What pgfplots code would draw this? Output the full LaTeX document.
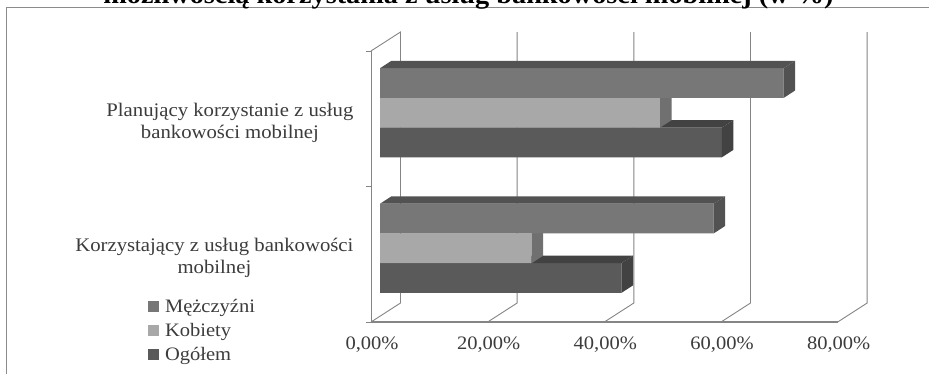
\documentclass[border=0pt]{standalone}
\usepackage{pgfplots}
\pgfplotsset{compat=1.18}
\usepackage{fontspec}
\setmainfont[FakeStretch=1.08]{Liberation Serif}
\definecolor{frameline}{HTML}{8C8C8C}
\definecolor{wall}{HTML}{858585}
\definecolor{labelcol}{HTML}{3C3C3C}
\definecolor{menfront}{HTML}{777777}
\definecolor{menside}{HTML}{525252}
\definecolor{womenfront}{HTML}{A8A8A8}
\definecolor{womenside}{HTML}{707070}
\definecolor{allfront}{HTML}{5A5A5A}
\definecolor{allside}{HTML}{424242}
\begin{document}
\begin{tikzpicture}[x=1pt,y=1pt]
\useasboundingbox (0,0) rectangle (929,374);
\clip (0,0) rectangle (929,374);
\fill[white] (0,0) rectangle (929,374);
% outer chart frame
\draw[frameline,line width=1pt] (6,-5) -- (6,366) -- (940,366);
% heading above the frame
\node[font=\bfseries\fontsize{26.2}{30}\selectfont,anchor=base,inner sep=0pt] at (468.5,370)
  {możliwością korzystania z usług bankowości mobilnej (w \%)};

% floor and walls of the three-dimensional plot area
\begin{axis}[
  at={(371pt,52pt)},anchor=south west,
  scale only axis,width=466.7pt,height=271pt,
  xmin=0,xmax=80,ymin=0,ymax=2,clip=false,
  axis x line*=bottom,axis y line*=left,
  axis line style={wall,line width=0.9pt,-},
  tick style={wall,line width=0.8pt},
  xtick={0,20,40,60,80},
  xticklabels={{0,00\%},{20,00\%},{40,00\%},{60,00\%},{80,00\%}},
  ytick={0,1,2},yticklabels={},
  tick align=outside,
  x tick style={draw=none},
  major tick length=5pt,
  xticklabel style={font=\fontsize{19}{22}\selectfont,text=labelcol,yshift=-6pt,xshift=1pt},
]
\addplot[wall,line width=1pt] coordinates {(0,0.003)(20,0.003)(40,0.003)(60,0.003)(80,0.003)};
\addplot[wall,line width=0.9pt] coordinates {(0,2)(5.05,2.14)(5.05,0.14)(0,0)};
\addplot[wall,line width=0.9pt] coordinates {(20,0)(25.05,0.14)(25.05,2.14)};
\addplot[wall,line width=0.9pt] coordinates {(40,0)(45.05,0.14)(45.05,2.14)};
\addplot[wall,line width=0.9pt] coordinates {(60,0)(65.05,0.14)(65.05,2.14)};
\addplot[wall,line width=0.9pt] coordinates {(80,0)(85.05,0.14)(85.05,2.14)};
\end{axis}

% bars: each series is a front face with a top and an end face for depth
\begin{axis}[
  at={(380pt,58pt)},anchor=south west,
  scale only axis,width=466.7pt,height=271pt,
  xmin=0,xmax=80,ymin=0,ymax=2,clip=false,
  hide x axis,
  axis y line*=left,
  y axis line style={draw=none},
  ytick={0.5,1.5},
  yticklabels={{Korzystający z usług bankowości\\mobilnej},{Planujący korzystanie z usług\\bankowości mobilnej}},
  y tick style={draw=none},
  yticklabel style={font=\fontsize{19.2}{22}\selectfont,text=labelcol,align=center,xshift=-23pt,yshift=-10pt},
  reverse legend=true,
  legend style={at={(-0.4975,0.069)},anchor=north west,draw=none,fill=none,
    font=\fontsize{19}{20}\selectfont,text=labelcol,
    row sep=5pt,inner sep=0pt,
    /tikz/every odd column/.append style={column sep=4pt}},
  legend image code/.code={\fill[#1,draw=none] (0pt,-5.5pt) rectangle (11pt,5.5pt);},
  legend cell align=left,
]
% Ogółem
\addplot[xbar,bar width=29.7pt,bar shift=-29.7pt,fill=allfront,draw=none] coordinates {(41.4,0.5)(58.6,1.5)};
\addlegendentry{Ogółem}
\addplot[fill=allside,draw=none,forget plot] coordinates {(0,0.390)(1.97,0.445)(43.37,0.445)(41.4,0.390)};
\addplot[fill=allside,draw=none,forget plot] coordinates {(41.4,0.390)(43.37,0.445)(43.37,0.226)(41.4,0.171)};
\addplot[fill=allside,draw=none,forget plot] coordinates {(0,1.390)(1.97,1.445)(60.57,1.445)(58.6,1.390)};
\addplot[fill=allside,draw=none,forget plot] coordinates {(58.6,1.390)(60.57,1.445)(60.57,1.226)(58.6,1.171)};
% Kobiety
\addplot[xbar,bar width=29.7pt,bar shift=0pt,fill=womenfront,draw=none] coordinates {(26.0,0.5)(48.0,1.5)};
\addlegendentry{Kobiety}
\addplot[fill=womenside,draw=none,forget plot] coordinates {(26.0,0.610)(27.97,0.665)(27.97,0.445)(26.0,0.390)};
\addplot[fill=womenside,draw=none,forget plot] coordinates {(48.0,1.610)(49.97,1.665)(49.97,1.445)(48.0,1.390)};
% Mężczyźni
\addplot[xbar,bar width=29.7pt,bar shift=29.7pt,fill=menfront,draw=none] coordinates {(57.2,0.5)(69.2,1.5)};
\addlegendentry{Mężczyźni}
\addplot[fill=menside,draw=none,forget plot] coordinates {(0,0.8285)(1.97,0.8835)(59.17,0.8835)(57.2,0.8285)};
\addplot[fill=menside,draw=none,forget plot] coordinates {(57.2,0.8285)(59.17,0.8835)(59.17,0.6645)(57.2,0.6095)};
\addplot[fill=menside,draw=none,forget plot] coordinates {(0,1.8285)(1.97,1.8835)(71.17,1.8835)(69.2,1.8285)};
\addplot[fill=menside,draw=none,forget plot] coordinates {(69.2,1.8285)(71.17,1.8835)(71.17,1.6645)(69.2,1.6095)};
\end{axis}
\end{tikzpicture}
\end{document}
